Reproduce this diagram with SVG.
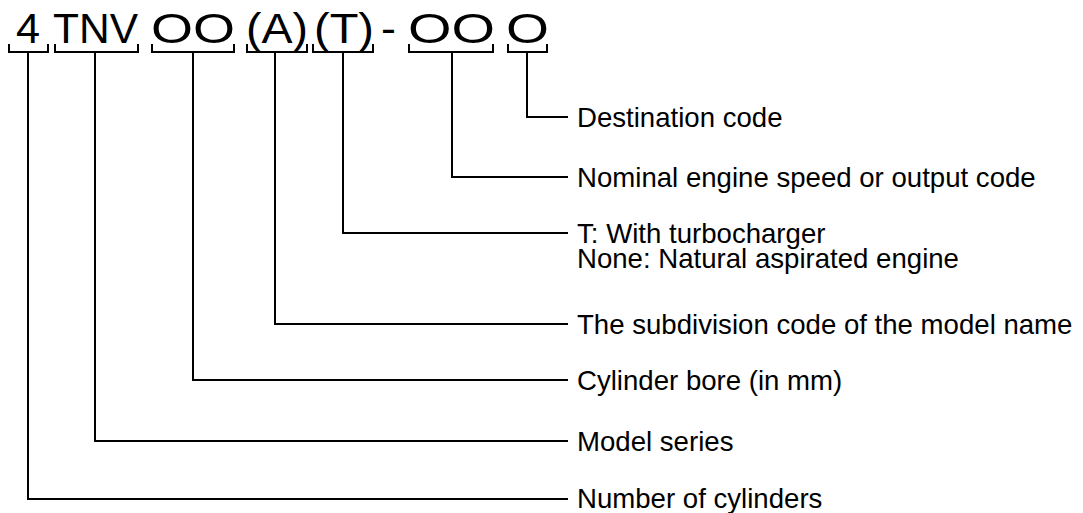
<svg xmlns="http://www.w3.org/2000/svg" width="1083" height="513" viewBox="0 0 1083 513">
<style>
.code{font-family:"Liberation Sans",Arial,sans-serif;font-size:43px;fill:#000}
.lbl{font-family:"Liberation Sans",Arial,sans-serif;font-size:27.6px;fill:#000}
.ln{fill:none;stroke:#000;stroke-width:2}
</style>
<rect width="1083" height="513" fill="#fff"/>
<g id="code">
<text class="code" x="16" y="43" textLength="24" lengthAdjust="spacingAndGlyphs">4</text>
<text class="code" x="53" y="43" textLength="85" lengthAdjust="spacingAndGlyphs">TNV</text>
<text class="code" x="151" y="43" textLength="84" lengthAdjust="spacingAndGlyphs">OO</text>
<text class="code" x="246" y="43" textLength="62" lengthAdjust="spacingAndGlyphs">(A)</text>
<text class="code" x="314" y="43" textLength="60" lengthAdjust="spacingAndGlyphs">(T)</text>
<text class="code" x="381" y="43" textLength="15" lengthAdjust="spacingAndGlyphs">-</text>
<text class="code" x="408" y="43" textLength="87" lengthAdjust="spacingAndGlyphs">OO</text>
<text class="code" x="506" y="43" textLength="43" lengthAdjust="spacingAndGlyphs">O</text>
</g>
<g id="brackets">
<path class="ln" d="M9,44V52H48V44"/>
<path class="ln" d="M55,44V52H138V44"/>
<path class="ln" d="M152,44V52H234V44"/>
<path class="ln" d="M247,44V52H307V44"/>
<path class="ln" d="M313,44V52H373V44"/>
<path class="ln" d="M409,44V52H493V44"/>
<path class="ln" d="M508,44V52H547V44"/>
</g>
<g id="connectors">
<path class="ln" d="M527,52V117H568"/>
<path class="ln" d="M452,52V177H568"/>
<path class="ln" d="M343,52V233H568"/>
<path class="ln" d="M275,52V324H568"/>
<path class="ln" d="M193,52V380H568"/>
<path class="ln" d="M95,52V441H568"/>
<path class="ln" d="M28,52V499H568"/>
</g>
<g id="label-destination"><text class="lbl" x="577" y="127">Destination code</text></g>
<g id="label-nominal"><text class="lbl" x="577" y="187">Nominal engine speed or output code</text></g>
<g id="label-turbo"><text class="lbl" x="577" y="243">T: With turbocharger</text><text class="lbl" x="577" y="268">None: Natural aspirated engine</text></g>
<g id="label-subdivision"><text class="lbl" x="577" y="334">The subdivision code of the model name</text></g>
<g id="label-bore"><text class="lbl" x="577" y="390">Cylinder bore (in mm)</text></g>
<g id="label-series"><text class="lbl" x="577" y="451">Model series</text></g>
<g id="label-cylinders"><text class="lbl" x="577" y="508">Number of cylinders</text></g>
</svg>
